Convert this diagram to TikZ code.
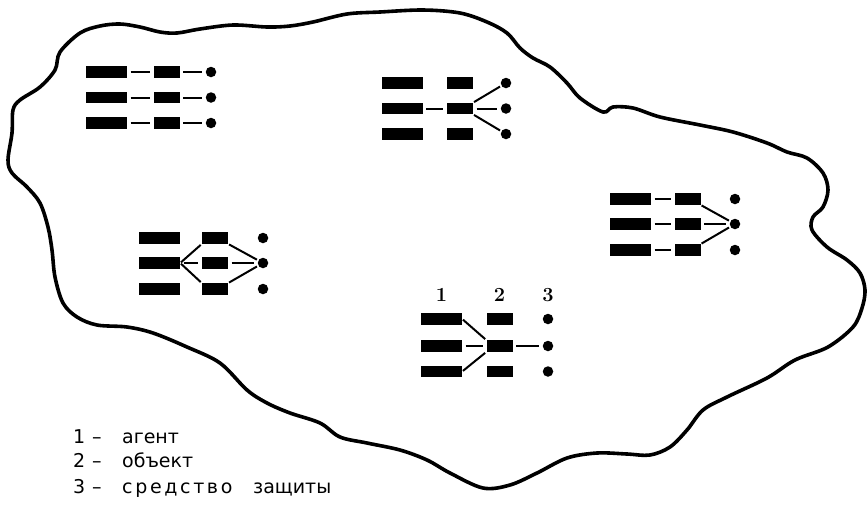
\documentclass[tikz,border=0pt]{standalone}
\usepackage{fontspec}
\newfontfamily\legfont{DejaVu Sans}
\begin{document}
\begin{tikzpicture}[x=1pt,y=-1pt,
  agent/.style={fill=black, minimum width=41pt, minimum height=11.5pt, inner sep=0pt},
  obj/.style={fill=black, minimum width=26pt, minimum height=11.5pt, inner sep=0pt},
  prot/.style={circle, fill=black, minimum size=10.5pt, inner sep=0pt},
  link/.style={line width=2pt, shorten <=3.5pt, shorten >=3.5pt},
  diag/.style={line width=2pt, shorten <=1pt, shorten >=1.5pt},
  blob/.style={line width=3.6pt, line join=round},
  num/.style={font=\bfseries\fontsize{20}{24}\selectfont, inner sep=0pt},
  legend/.style={anchor=base west, inner sep=0pt, font=\legfont\fontsize{19}{22}\selectfont}]
\useasboundingbox (0,0) rectangle (867,507);

% outline
\draw[blob] plot[smooth cycle, tension=0.55] coordinates {
 (60,52) (80,33) (100,26) (120,24) (140,27) (160,32) (177,33) (200,29) (233,25) (267,27)
 (290,26) (313,22) (347,14) (380,12) (423,10) (460,13) (487,22) (507,33) (520,48) (533,58)
 (550,67) (567,83) (580,98) (603,112) (613,107) (633,108) (660,117) (700,125) (733,132)
 (767,143) (787,152) (807,158) (823,173) (828,190) (823,207) (813,217) (812,230) (827,247)
 (847,260) (860,273) (865,290) (862,308) (853,327) (828,347) (795,360) (767,378) (727,397)
 (703,410) (687,430) (670,447) (650,455) (627,454) (597,453) (567,458) (537,473) (510,485)
 (483,488) (450,473) (427,460) (400,450) (367,443) (340,437) (320,423) (290,413) (267,403)
 (247,390) (220,363) (187,347) (153,333) (127,327) (97,325) (77,317) (63,303) (55,277)
 (52,250) (48,227) (40,203) (27,187) (12,173) (8,160) (12,133) (13,110) (20,100) (40,87) (55,70)};

% group 1
\foreach \i/\y in {1/72,2/97.5,3/123}{
  \node[agent] (g1a\i) at (106.5,\y) {};
  \node[obj] (g1o\i) at (166.5,\y) {};
  \node[prot] (g1d\i) at (211,\y) {};
  \draw[link] (g1a\i) -- (g1o\i);
  \draw[link] (g1o\i) -- (g1d\i);
}

% group 2
\foreach \i/\y in {1/83,2/108.5,3/134}{
  \node[agent] (g2a\i) at (402,\y) {};
  \node[obj] (g2o\i) at (460,\y) {};
  \node[prot] (g2d\i) at (506,\y) {};
}
\draw[link] (g2a2) -- (g2o2);
\draw[diag] (g2o2.north east) -- (g2d1);
\draw[link] (g2o2) -- (g2d2);
\draw[diag] (g2o2.south east) -- (g2d3);

% group 3
\foreach \i/\y in {1/199,2/224,3/250}{
  \node[agent] (g3a\i) at (630.5,\y) {};
  \node[obj] (g3o\i) at (687.5,\y) {};
  \node[prot] (g3d\i) at (735,\y) {};
  \draw[link] (g3a\i) -- (g3o\i);
}
\draw[diag] (g3o1.south east) -- (g3d2);
\draw[link] (g3o2) -- (g3d2);
\draw[diag] (g3o3.north east) -- (g3d2);

% group 4
\foreach \i/\y in {1/238,2/263,3/289}{
  \node[agent] (g4a\i) at (159.5,\y) {};
  \node[obj] (g4o\i) at (215,\y) {};
  \node[prot] (g4d\i) at (263,\y) {};
}
\draw[diag] (g4a2.east) -- (g4o1.south west);
\draw[link] (g4a2) -- (g4o2);
\draw[diag] (g4a2.east) -- (g4o3.north west);
\draw[diag] (g4o1.south east) -- (g4d2);
\draw[link] (g4o2) -- (g4d2);
\draw[diag] (g4o3.north east) -- (g4d2);

% group 5
\node[num] (n1) at (441.5,295) {1};
\node[num] (n2) at (499.5,295) {2};
\node[num] (n3) at (548,295) {3};
\foreach \i/\y in {1/319,2/346,3/371.5}{
  \node[agent] (g5a\i) at (441.5,\y) {};
  \node[obj] (g5o\i) at (499.5,\y) {};
  \node[prot] (g5d\i) at (548,\y) {};
}
\draw[diag] (g5a1.east) -- (g5o2.north west);
\draw[link] (g5a2) -- (g5o2);
\draw[diag] (g5a3.east) -- (g5o2.south west);
\draw[link] (g5o2) -- (g5d2);

% legend
\node[legend] (l1) at (73,443) {\makebox[19pt][l]{1}\makebox[30pt][l]{–}агент};
\node[legend] (l2) at (73,467) {\makebox[19pt][l]{2}\makebox[30pt][l]{–}объект};
\node[legend] (l3) at (73,493) {\makebox[19pt][l]{3}\makebox[30pt][l]{–}\makebox[131pt][l]{\addfontfeature{LetterSpace=14}средство}защиты};
\end{tikzpicture}
\end{document}
